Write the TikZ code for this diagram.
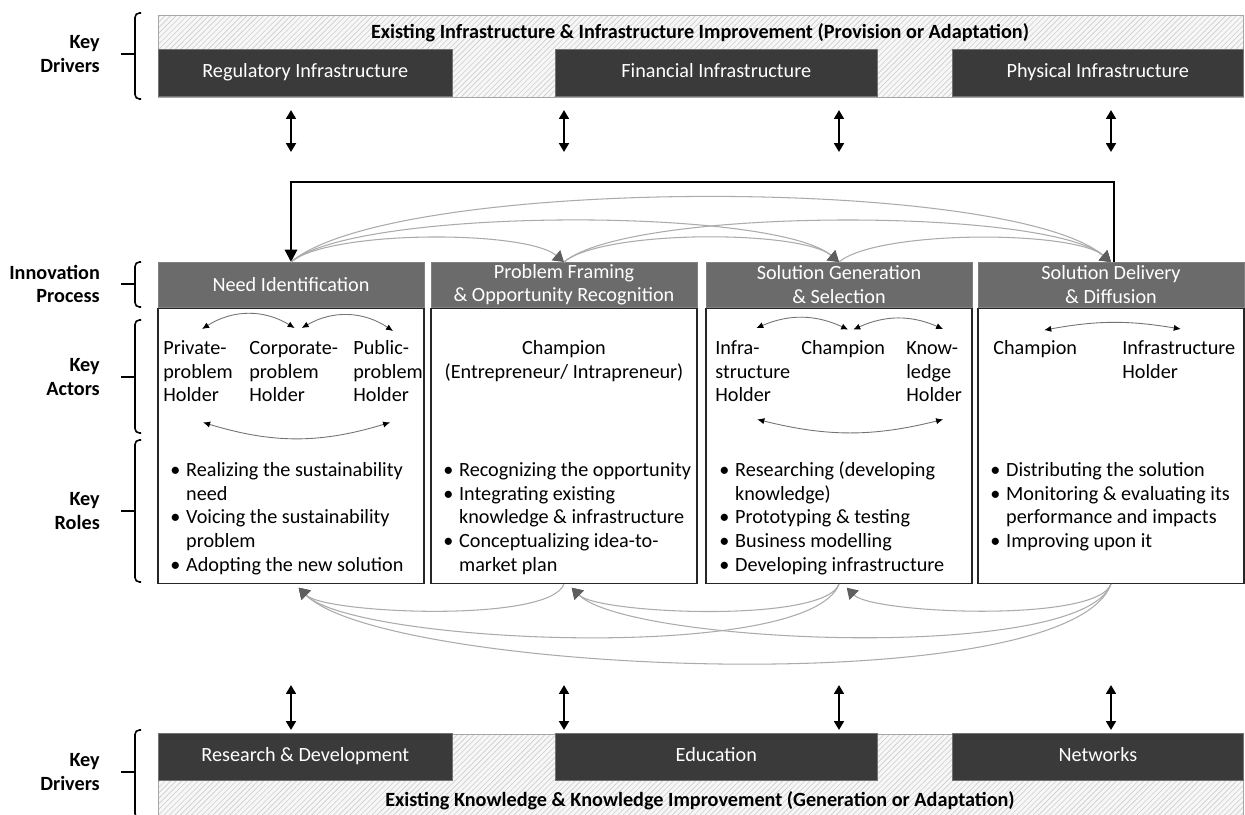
\documentclass[tikz,border=0pt]{standalone}
\usepackage{fontspec}
\setmainfont{Carlito}
\usetikzlibrary{arrows.meta,patterns.meta,positioning}

\definecolor{darkbox}{HTML}{3A3A3A}
\definecolor{headgrey}{HTML}{6B6B6B}
\definecolor{flowgrey}{HTML}{ABABAB}
\definecolor{tipgrey}{HTML}{5E5E5E}
\definecolor{hatchgrey}{HTML}{CCCCCC}

\tikzset{
  hatchband/.style={draw=black!35, line width=0.5pt, preaction={fill=black!3},
    pattern={Lines[angle=45,distance=2.2pt,line width=0.35pt]}, pattern color=hatchgrey,
    anchor=north west, inner sep=0pt},
  bandtitle/.style={font=\fontsize{11.5}{13.5}\selectfont\bfseries, inner sep=0pt},
  driverbox/.style={fill=darkbox, draw=black!55, text=white, minimum height=0.94cm,
    text height=8pt, text depth=2.5pt, inner sep=0pt, anchor=south west},
  headbox/.style={fill=headgrey, draw=black!50, text=white, minimum width=5.32cm,
    minimum height=0.9cm, inner sep=0pt, align=center, anchor=north},
  bodybox/.style={draw=black!85, line width=0.8pt, fill=white, minimum width=5.32cm,
    minimum height=5.5cm, anchor=north},
  actor/.style={anchor=base west, inner sep=0pt},
  roles/.style={anchor=base west, inner sep=0pt},
  sidelabel/.style={anchor=east, align=right, font=\fontsize{11.5}{13.5}\selectfont\bfseries},
  bracket/.style={line width=0.9pt, rounded corners=2.5pt},
  linkarrow/.style={line width=1.3pt, {Triangle[length=5pt,width=5.5pt]}-{Triangle[length=5pt,width=5.5pt]}},
  looparrow/.style={line width=1.2pt, -{Triangle[length=7pt,width=7pt]}},
  flowarrow/.style={draw=flowgrey, line width=0.6pt, -{Triangle[length=6pt,width=7.5pt,color=tipgrey]}},
  actorlink/.style={draw=black!55, line width=0.5pt, <->, >={Latex[length=4pt,width=3.5pt,color=black]}}
}

\begin{document}
\begin{tikzpicture}[x=0.02cm, y=0.02cm, font=\fontsize{11.5}{13.5}\selectfont]
  \path[use as bounding box, fill=white] (0,0) rectangle (1245,815);

  % key drivers: infrastructure
  \node[hatchband, minimum width=21.7cm, minimum height=1.64cm] (infband) at (158,800) {};
  \node[bandtitle] (inftitle) at (700,782) {Existing Infrastructure \& Infrastructure Improvement (Provision or Adaptation)};
  \node[driverbox, minimum width=5.88cm] (reg) at (158,718) {Regulatory Infrastructure};
  \node[driverbox, minimum width=6.44cm] (fin) at (555,718) {Financial Infrastructure};
  \node[driverbox, minimum width=5.82cm] (phy) at (952,718) {Physical Infrastructure};

  % key drivers: knowledge
  \node[hatchband, minimum width=21.7cm, minimum height=1.68cm] (knowband) at (158,81) {};
  \node[bandtitle] (knowtitle) at (700,14) {Existing Knowledge \& Knowledge Improvement (Generation or Adaptation)};
  \node[driverbox, minimum width=5.88cm] (rnd) at (158,34) {Research \& Development};
  \node[driverbox, minimum width=6.44cm] (edu) at (555,34) {Education};
  \node[driverbox, minimum width=5.82cm] (net) at (952,34) {Networks};

  % innovation process
  \foreach \x/\txt [count=\i] in {291/{Need Identification},
      564/{Problem Framing\\\& Opportunity Recognition},
      839/{Solution Generation\\\& Selection},
      1111/{Solution Delivery\\\& Diffusion}} {
    \node[headbox] (h\i) at (\x,553) {\txt};
    \node[bodybox, below=0pt of h\i] (b\i) {};
  }

  % links to the drivers
  \foreach \i in {1,...,4} {
    \coordinate (ia\i) at ([yshift=3.04cm]h\i.north);
    \coordinate (ib\i) at ([yshift=2.2cm]h\i.north);
    \draw[linkarrow] (ia\i) -- (ib\i);
    \coordinate (ka\i) at ([yshift=-2.02cm]b\i.south);
    \coordinate (kb\i) at ([yshift=-2.92cm]b\i.south);
    \draw[linkarrow] (ka\i) -- (kb\i);
  }

  % feedback loop
  \draw[looparrow] ([xshift=0.06cm]h4.north) -- ++(0,80) -| (h1.north);

  % forward and backward flows
  \foreach \i/\j/\l in {1/2/0.47, 1/3/0.40, 1/4/0.42, 2/3/0.47, 2/4/0.40, 3/4/0.47}
    \draw[flowarrow] (h\i.north) to[out=40, in=140, looseness=\l] (h\j.north);
  \foreach \i/\j in {2/1, 3/1, 4/1, 3/2, 4/2, 4/3}
    \draw[flowarrow, shorten >=3pt] (b\i.south) to[out=-110, in=-45, looseness=0.4] ([xshift=0.08cm]b\j.south);

  % key actors
  \node[actor] (priv) at (163,460.5) {\begin{tabular}[t]{@{}l@{}}Private-\\problem\\Holder\end{tabular}};
  \node[actor] (corp) at (249,460.5) {\begin{tabular}[t]{@{}l@{}}Corporate-\\problem\\Holder\end{tabular}};
  \node[actor] (publ) at (353,460.5) {\begin{tabular}[t]{@{}l@{}}Public-\\problem\\Holder\end{tabular}};
  \draw[actorlink] ([xshift=0.08cm,yshift=0.17cm]priv.north) to[bend left=32] ([xshift=0.02cm,yshift=0.19cm]corp.north);
  \draw[actorlink] ([xshift=0.16cm,yshift=0.19cm]corp.north) to[bend left=32] ([xshift=0.1cm,yshift=0.13cm]publ.north);
  \draw[actorlink] ([xshift=0.1cm,yshift=-0.26cm]priv.south) to[bend right=17] ([xshift=0.04cm,yshift=-0.26cm]publ.south);

  \node[actor, anchor=base] (champ2) at (564,460.5) {\begin{tabular}[t]{@{}c@{}}Champion\\(Entrepreneur/ Intrapreneur)\end{tabular}};

  \node[actor] (infra) at (715,460.5) {\begin{tabular}[t]{@{}l@{}}Infra-\\structure\\Holder\end{tabular}};
  \node[actor] (champ3) at (801,460.5) {Champion};
  \node[actor] (know) at (906,460.5) {\begin{tabular}[t]{@{}l@{}}Know-\\ledge\\Holder\end{tabular}};
  \draw[actorlink] ([xshift=0.07cm,yshift=0.19cm]infra.north) to[bend left=24] ([xshift=0.1cm,yshift=0.21cm]champ3.north);
  \draw[actorlink] ([xshift=0.2cm,yshift=0.21cm]champ3.north) to[bend left=24] ([xshift=0.18cm,yshift=0.17cm]know.north);
  \draw[actorlink] ([xshift=0.09cm,yshift=-0.2cm]infra.south) to[bend right=14] ([xshift=0.18cm,yshift=-0.2cm]know.south);

  \node[actor] (champ4) at (993,460.5) {Champion};
  \node[actor] (infh) at (1122,460.5) {\begin{tabular}[t]{@{}l@{}}Infrastructure\\Holder\end{tabular}};
  \draw[actorlink] ([xshift=0.18cm,yshift=0.2cm]champ4.north) to[bend left=10] ([xshift=0.04cm,yshift=0.17cm]infh.north);

  % key roles
  \node[roles] (r1) at (170,338.5) {\begin{tabular}[t]{@{}p{9pt}@{}l@{}}
    • & Realizing the sustainability\\
      & need\\
    • & Voicing the sustainability\\
      & problem\\
    • & Adopting the new solution
  \end{tabular}};
  \node[roles] (r2) at (443,338.5) {\begin{tabular}[t]{@{}p{9pt}@{}l@{}}
    • & Recognizing the opportunity\\
    • & Integrating existing\\
      & knowledge \& infrastructure\\
    • & Conceptualizing idea-to-\\
      & market plan
  \end{tabular}};
  \node[roles] (r3) at (719,338.5) {\begin{tabular}[t]{@{}p{9pt}@{}l@{}}
    • & Researching (developing\\
      & knowledge)\\
    • & Prototyping \& testing\\
    • & Business modelling\\
    • & Developing infrastructure
  \end{tabular}};
  \node[roles] (r4) at (990,338.5) {\begin{tabular}[t]{@{}p{9pt}@{}l@{}}
    • & Distributing the solution\\
    • & Monitoring \& evaluating its\\
      & performance and impacts\\
    • & Improving upon it
  \end{tabular}};

  % side labels with brackets
  \foreach \t/\b/\m/\txt [count=\i] in {802/716/761/{Key\\Drivers},
      553/508/531/{Innovation\\Process},
      495/382/438/{Key\\Actors},
      375/233/304/{Key\\Roles},
      85/-3/43/{Key\\Drivers}} {
    \draw[bracket] (141,\t) -- (135,\t) -- (135,\b) -- (141,\b);
    \draw[line width=0.9pt] (121,\m) -- (135,\m);
    \node[sidelabel] (lab\i) at (106,\m) {\txt};
  }
\end{tikzpicture}
\end{document}
